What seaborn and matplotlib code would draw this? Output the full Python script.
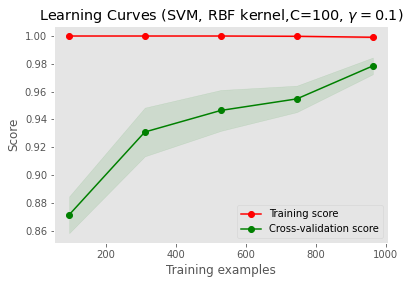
import numpy as np
import pandas as pd
import matplotlib
matplotlib.use("Agg")
import matplotlib.pyplot as plt
import seaborn as sns

# Data
train_sizes = [96, 312, 529, 746, 963]
train_mean = [1.0, 1.0, 1.0, 0.9998, 0.9991]
train_std = [0.0, 0.0, 0.0, 0.0003, 0.0006]
cv_mean = [0.8715, 0.931, 0.9465, 0.9548, 0.9785]
cv_std = [0.0132, 0.0175, 0.0147, 0.0095, 0.0060]

title = "Learning Curves (SVM, RBF kernel,C=100, $\\gamma = 0.1$)"

plt.style.use("ggplot")
fig, ax = plt.subplots(figsize=(410 / 72, 284 / 72), dpi=72)
fig.subplots_adjust(left=54 / 410, right=388 / 410, top=1 - 26 / 284, bottom=1 - 243 / 284)

df = pd.DataFrame({
    "size": train_sizes,
    "train": train_mean,
    "train_std": train_std,
    "cv": cv_mean,
    "cv_std": cv_std,
})

ax.fill_between(df["size"], df["train"] - df["train_std"], df["train"] + df["train_std"],
                alpha=0.1, color="r")
ax.fill_between(df["size"], df["cv"] - df["cv_std"], df["cv"] + df["cv_std"],
                alpha=0.1, color="g")
sns.lineplot(data=df, x="size", y="train", ax=ax, color="r", marker="o",
             markersize=6, mec="r", mew=1, label="Training score")
sns.lineplot(data=df, x="size", y="cv", ax=ax, color="g", marker="o",
             markersize=6, mec="g", mew=1, label="Cross-validation score")

ax.set_title(title)
ax.set_xlabel("Training examples")
ax.set_ylabel("Score")
ax.grid(False)
ax.set_yticks([0.86, 0.88, 0.90, 0.92, 0.94, 0.96, 0.98, 1.00])
ax.set_xticks([200, 400, 600, 800, 1000])
ax.legend(loc="best")

fig.savefig("out.png", dpi=72)
